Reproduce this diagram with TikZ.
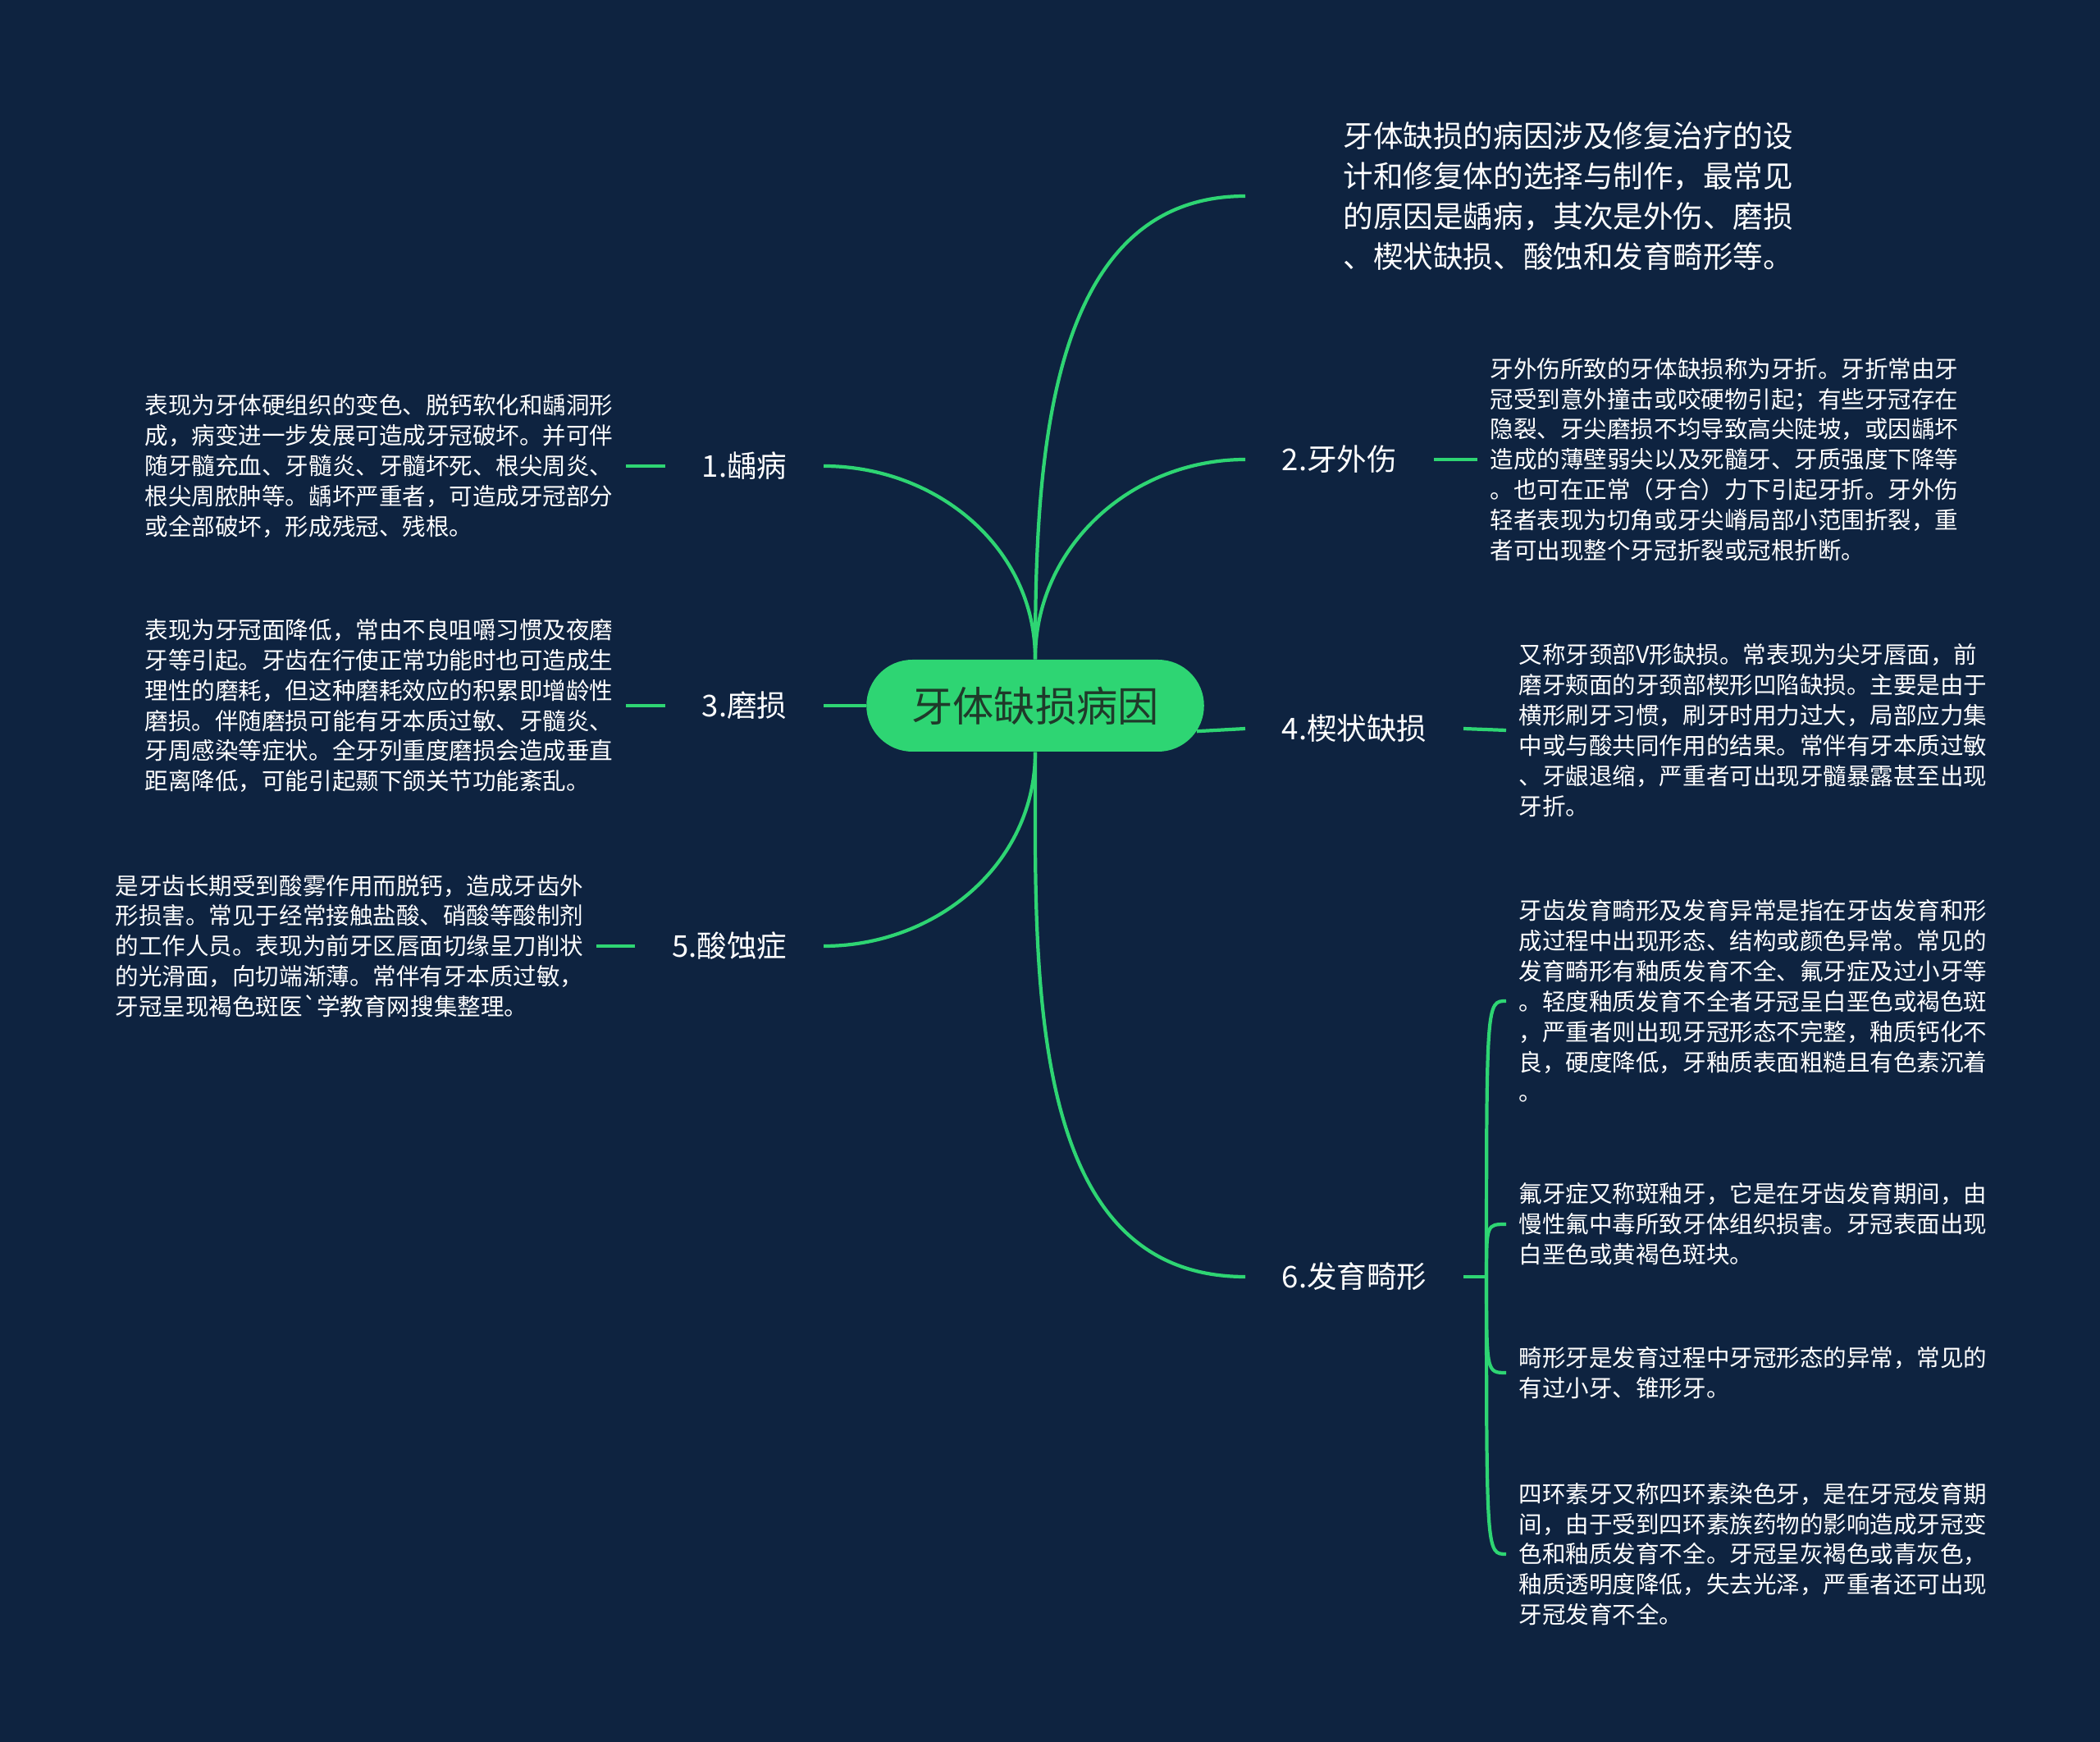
\documentclass[tikz,border=0pt]{standalone}
\usepackage{fontspec}
\setmainfont{Noto Sans CJK SC}
\usetikzlibrary{positioning,shapes.misc}
\definecolor{bgnavy}{HTML}{0E2340}
\definecolor{linkgreen}{HTML}{2ED573}
\definecolor{roottext}{HTML}{1F3A2A}
\tikzset{
	link/.style={draw=linkgreen,line width=1.2pt},
	rootnode/.style={rounded rectangle,fill=linkgreen,text=roottext,minimum width=4.35cm,minimum height=1.12cm,font=\fontsize{14.3pt}{16pt}\selectfont},
	branch/.style={text=white,inner xsep=0.44cm,inner ysep=0.1cm,font=\fontsize{10.4pt}{12pt}\selectfont},
	leaf/.style={text=white,align=left,inner xsep=0.15cm,inner ysep=0.05cm,font=\fontsize{8.12pt}{10.5pt}\selectfont},
	intro/.style={text=white,align=left,inner xsep=1.19cm,font=\fontsize{10.4pt}{14pt}\selectfont}
}

\begin{document}
\begin{tikzpicture}
    \fill[bgnavy] (0,0) rectangle (25.6,-21.23);
    \useasboundingbox (0,0) rectangle (25.6,-21.23);
    \node[rootnode] (root) at (12.62,-8.60) {牙体缺损病因};
    \node[intro,anchor=west] (t0) at (15.18,-2.39) {牙体缺损的病因涉及修复治疗的设\\计和修复体的选择与制作，最常见\\的原因是龋病，其次是外伤、磨损\\、楔状缺损、酸蚀和发育畸形等。};
    \node[branch,anchor=east] (b1) at (10.04,-5.68) {1.龋病};
    \node[branch,anchor=west] (b2) at (15.18,-5.60) {2.牙外伤};
    \node[branch,anchor=east] (b3) at (10.04,-8.60) {3.磨损};
    \node[branch,anchor=west] (b4) at (15.18,-8.88) {4.楔状缺损};
    \node[branch,anchor=east] (b5) at (10.04,-11.53) {5.酸蚀症};
    \node[branch,anchor=west] (b6) at (15.18,-15.56) {6.发育畸形};
    \coordinate[right=0.28cm of b6.east] (j6);
    \node[leaf,anchor=west] (l1) at (1.61,-5.68) {表现为牙体硬组织的变色、脱钙软化和龋洞形\\成，病变进一步发展可造成牙冠破坏。并可伴\\随牙髓充血、牙髓炎、牙髓坏死、根尖周炎、\\根尖周脓肿等。龋坏严重者，可造成牙冠部分\\或全部破坏，形成残冠、残根。};
    \node[leaf,anchor=west] (l3) at (1.61,-8.60) {表现为牙冠面降低，常由不良咀嚼习惯及夜磨\\牙等引起。牙齿在行使正常功能时也可造成生\\理性的磨耗，但这种磨耗效应的积累即增龄性\\磨损。伴随磨损可能有牙本质过敏、牙髓炎、\\牙周感染等症状。全牙列重度磨损会造成垂直\\距离降低，可能引起颞下颌关节功能紊乱。};
    \node[leaf,anchor=west] (l5) at (1.25,-11.53) {是牙齿长期受到酸雾作用而脱钙，造成牙齿外\\形损害。常见于经常接触盐酸、硝酸等酸制剂\\的工作人员。表现为前牙区唇面切缘呈刀削状\\的光滑面，向切端渐薄。常伴有牙本质过敏，\\牙冠呈现褐色斑医\textasciigrave 学教育网搜集整理。};
    \node[leaf,anchor=west] (l2) at (18.01,-5.60) {牙外伤所致的牙体缺损称为牙折。牙折常由牙\\冠受到意外撞击或咬硬物引起；有些牙冠存在\\隐裂、牙尖磨损不均导致高尖陡坡，或因龋坏\\造成的薄壁弱尖以及死髓牙、牙质强度下降等\\。也可在正常（牙合）力下引起牙折。牙外伤\\轻者表现为切角或牙尖嵴局部小范围折裂，重\\者可出现整个牙冠折裂或冠根折断。};
    \node[leaf,anchor=west] (l4) at (18.36,-8.90) {又称牙颈部V形缺损。常表现为尖牙唇面，前\\磨牙颊面的牙颈部楔形凹陷缺损。主要是由于\\横形刷牙习惯，刷牙时用力过大，局部应力集\\中或与酸共同作用的结果。常伴有牙本质过敏\\、牙龈退缩，严重者可出现牙髓暴露甚至出现\\牙折。};
    \node[leaf,anchor=west] (l6a) at (18.36,-12.20) {牙齿发育畸形及发育异常是指在牙齿发育和形\\成过程中出现形态、结构或颜色异常。常见的\\发育畸形有釉质发育不全、氟牙症及过小牙等\\。轻度釉质发育不全者牙冠呈白垩色或褐色斑\\，严重者则出现牙冠形态不完整，釉质钙化不\\良，硬度降低，牙釉质表面粗糙且有色素沉着\\。};
    \node[leaf,anchor=west] (l6b) at (18.36,-14.92) {氟牙症又称斑釉牙，它是在牙齿发育期间，由\\慢性氟中毒所致牙体组织损害。牙冠表面出现\\白垩色或黄褐色斑块。};
    \node[leaf,anchor=west] (l6c) at (18.36,-16.73) {畸形牙是发育过程中牙冠形态的异常，常见的\\有过小牙、锥形牙。};
    \node[leaf,anchor=west] (l6d) at (18.36,-18.94) {四环素牙又称四环素染色牙，是在牙冠发育期\\间，由于受到四环素族药物的影响造成牙冠变\\色和釉质发育不全。牙冠呈灰褐色或青灰色，\\釉质透明度降低，失去光泽，严重者还可出现\\牙冠发育不全。};
    \draw[link] (root.north) to[out=90,in=0] (b1.east);
    \draw[link] (root.north) to[out=90,in=180] (t0.west);
    \draw[link] (root.north) to[out=90,in=180] (b2.west);
    \draw[link] (root.west) -- (b3.east);
    \draw[link] (root.-9) -- (b4.west);
    \draw[link] (root.south) to[out=-90,in=0] (b5.east);
    \draw[link] (root.south) to[out=-90,in=180] (b6.west);
    \draw[link] (b1.west) -- (l1.east);
    \draw[link] (b3.west) -- (l3.east);
    \draw[link] (b5.west) -- (l5.east);
    \draw[link] (b2.east) -- (l2.west);
    \draw[link] (b4.east) -- (l4.west);
    \draw[link] (b6.east) -- (j6);
    \foreach \leafname in {l6a,l6b,l6c,l6d}
        \draw[link] (j6) .. controls (j6 |- \leafname.west) .. (\leafname.west);
\end{tikzpicture}
\end{document}
